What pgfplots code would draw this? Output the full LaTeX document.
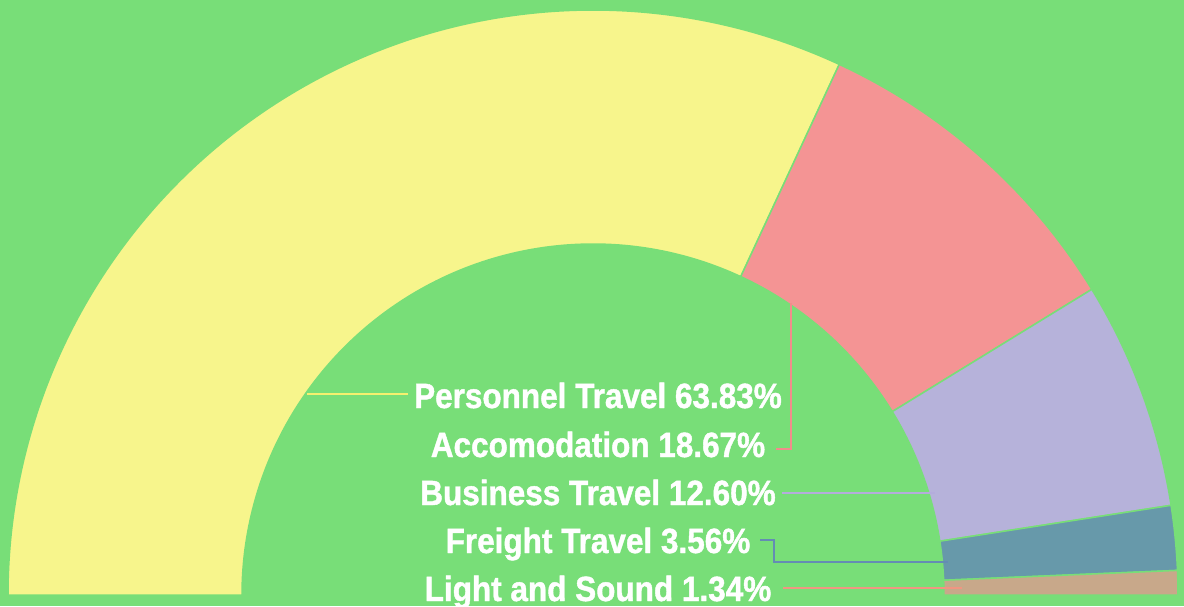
\documentclass[border=0pt]{standalone}
\usepackage{fontspec}
\setmainfont{Liberation Sans}[FakeStretch=0.9, BoldFeatures={FakeBold=1.2}]
\usepackage{pgfplots}
\usepackage{pgfplotstable}
\pgfplotsset{compat=1.18}
\definecolor{bg}{RGB}{120,222,120}
\definecolor{cA}{RGB}{247,245,140}
\definecolor{cB}{RGB}{244,148,148}
\definecolor{cC}{RGB}{182,178,218}
\definecolor{cD}{RGB}{103,153,170}
\definecolor{cE}{RGB}{200,168,138}
\definecolor{lA}{RGB}{245,240,110}
\definecolor{lB}{RGB}{242,140,140}
\definecolor{lC}{RGB}{180,172,220}
\definecolor{lD}{RGB}{100,140,180}
\definecolor{lE}{RGB}{240,150,130}

\pgfplotstableread{
value
63.83
18.67
12.60
3.56
1.34
}\slices

\newcommand\slice[3]{%
  \fill[#3, draw=bg, line width=1.5pt]
    (axis cs:{593+585*cos(#1)},{11+585*sin(#1)})
    arc[start angle=#1, end angle=#2, radius=585]
    -- (axis cs:{593+351*cos(#2)},{11+351*sin(#2)})
    arc[start angle=#2, end angle=#1, radius=351] -- cycle;}

\begin{document}
\pgfplotstablegetelem{0}{value}\of\slices \pgfmathsetmacro\aA{180-1.8*\pgfplotsretval}%
\pgfplotstablegetelem{1}{value}\of\slices \pgfmathsetmacro\aB{\aA-1.8*\pgfplotsretval}%
\pgfplotstablegetelem{2}{value}\of\slices \pgfmathsetmacro\aC{\aB-1.8*\pgfplotsretval}%
\pgfplotstablegetelem{3}{value}\of\slices \pgfmathsetmacro\aD{\aC-1.8*\pgfplotsretval}%
\pgfplotstablegetelem{4}{value}\of\slices \pgfmathsetmacro\aE{\aD-1.8*\pgfplotsretval}%
\begin{tikzpicture}
\begin{axis}[width=1184pt, height=606pt, scale only axis,
  xmin=0, xmax=1184, ymin=0, ymax=606, hide axis, clip=false]
\fill[bg] (axis cs:0,0) rectangle (axis cs:1184,606);
\slice{180}{\aA}{cA}
\slice{\aA}{\aB}{cB}
\slice{\aB}{\aC}{cC}
\slice{\aC}{\aD}{cD}
\slice{\aD}{\aE}{cE}
\draw[lA, line width=2pt] (axis cs:307,212) -- (axis cs:408,212);
\draw[lB, line width=2pt] (axis cs:776,157) -- (axis cs:791,157) -- (axis cs:791,303);
\draw[lC, line width=2pt] (axis cs:782,113) -- (axis cs:935,113);
\draw[lD, line width=2pt] (axis cs:760,66) -- (axis cs:774,66) -- (axis cs:774,44) -- (axis cs:948,44);
\draw[lE, line width=2pt] (axis cs:783,18) -- (axis cs:962,18);
\begin{scope}[every node/.style={anchor=base, text=white, font=\fontsize{35}{40}\selectfont\bfseries, inner sep=0pt}]
\node at (axis cs:598,198) {Personnel Travel 63.83\%};
\node at (axis cs:598,149) {Accomodation 18.67\%};
\node at (axis cs:598,101) {Business Travel 12.60\%};
\node at (axis cs:598,53) {Freight Travel 3.56\%};
\node at (axis cs:598,5) {Light and Sound 1.34\%};
\end{scope}
\end{axis}
\pgfresetboundingbox
\path (current axis.south west) rectangle (current axis.north east);
\end{tikzpicture}
\end{document}
